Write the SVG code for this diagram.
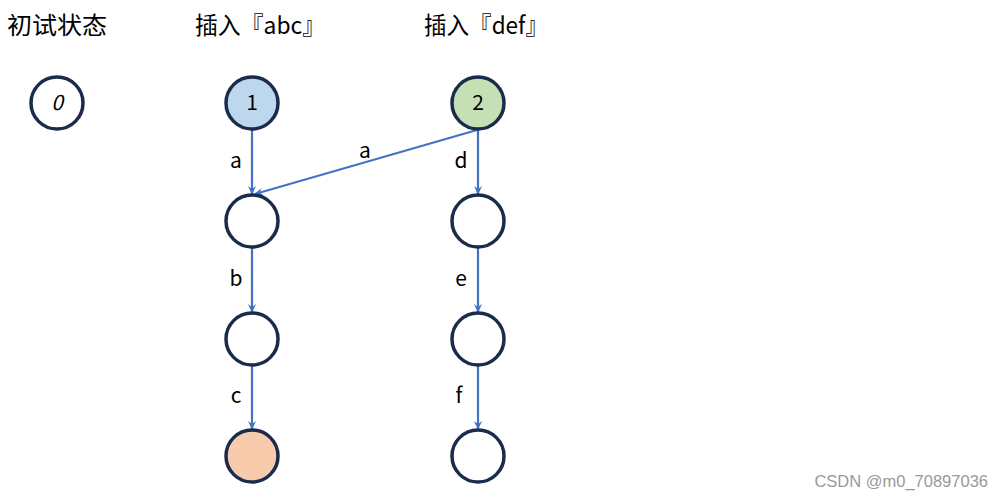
<svg xmlns="http://www.w3.org/2000/svg" width="1003" height="500" viewBox="0 0 1003 500">
<style>
.n{stroke:#1a2b4c;stroke-width:3.5;fill:#fff}
.t{font-family:"Noto Sans CJK SC","Noto Sans",sans-serif;font-size:24px;fill:#000}
.l{font-family:"Noto Sans CJK SC","Noto Sans",sans-serif;font-size:21px;fill:#000;text-anchor:middle}
.e{stroke:#4472c4;stroke-width:2.2;fill:none;marker-end:url(#ah)}
</style>
<defs>
<marker id="ah" markerWidth="10" markerHeight="10" refX="8" refY="5" orient="auto" markerUnits="userSpaceOnUse">
<path d="M0,1 L9,5 L0,9 L3,5 Z" fill="#4472c4"/>
</marker>
</defs>
<rect width="1003" height="500" fill="#fff"/>
<text class="t" x="7" y="34" textLength="100" lengthAdjust="spacingAndGlyphs">初试状态</text>
<text class="t" x="195" y="34" textLength="130" lengthAdjust="spacingAndGlyphs">插入『abc』</text>
<text class="t" x="424" y="34" textLength="124" lengthAdjust="spacingAndGlyphs">插入『def』</text>
<g id="edges">
<line class="e" x1="252" y1="129" x2="252" y2="194"/>
<line class="e" x1="252" y1="247" x2="252" y2="312"/>
<line class="e" x1="252" y1="365" x2="252" y2="429"/>
<line class="e" x1="478" y1="129" x2="478" y2="194"/>
<line class="e" x1="478" y1="247" x2="478" y2="312"/>
<line class="e" x1="478" y1="365" x2="478" y2="429"/>
<line class="e" x1="477" y1="130" x2="255" y2="194"/>
<text class="l" x="236" y="168">a</text>
<text class="l" x="236" y="286">b</text>
<text class="l" x="236" y="403">c</text>
<text class="l" x="461" y="168">d</text>
<text class="l" x="461" y="286">e</text>
<text class="l" x="459" y="403">f</text>
<text class="l" x="365" y="158">a</text>
</g>
<g id="n0"><circle class="n" cx="57" cy="103" r="26"/><text class="l" x="57" y="110" font-style="italic">0</text></g>
<g id="n1"><circle class="n" cx="252" cy="103" r="26" style="fill:#bdd7ee"/><text class="l" x="252" y="110">1</text></g>
<g id="n2"><circle class="n" cx="478" cy="103" r="26" style="fill:#c5e0b4"/><text class="l" x="478" y="110">2</text></g>
<g id="n3"><circle class="n" cx="252" cy="221" r="26"/></g>
<g id="n4"><circle class="n" cx="252" cy="339" r="26"/></g>
<g id="n5"><circle class="n" cx="252" cy="456" r="26" style="fill:#f8cbad"/></g>
<g id="n6"><circle class="n" cx="478" cy="221" r="26"/></g>
<g id="n7"><circle class="n" cx="478" cy="339" r="26"/></g>
<g id="n8"><circle class="n" cx="478" cy="456" r="26"/></g>
<text x="988" y="487" text-anchor="end" font-family="Liberation Sans, Arial, sans-serif" font-size="16.5" fill="#999">CSDN @m0_70897036</text>
</svg>
